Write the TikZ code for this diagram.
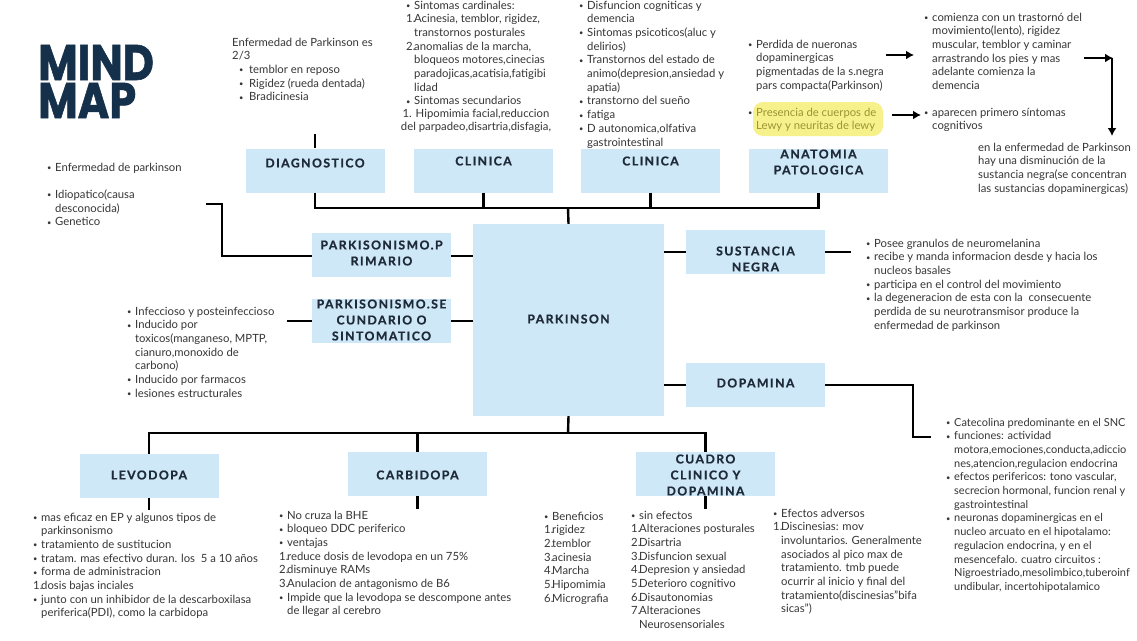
\documentclass[tikz,border=0pt]{standalone}
\usepackage{fontspec}
\setmainfont{Lato}
\newfontfamily\titlef{Poppins}[BoldFeatures={FakeBold=1.2}]
\newfontfamily\boxf{Lato}[LetterSpace=12, BoldFeatures={FakeBold=0.8}]
\usetikzlibrary{arrows.meta}
\definecolor{tc}{HTML}{363636}
\definecolor{boxblue}{HTML}{CFE8F8}
\definecolor{navy}{HTML}{1E2A38}
\definecolor{titlec}{HTML}{15304A}
\definecolor{hl}{HTML}{F7F18C}
\definecolor{hltext}{HTML}{9C9434}
\newcommand\bux[1]{\makebox[#1][l]{\raisebox{.6pt}{\fontsize{7.5}{7.5}\selectfont •}}}
\newcommand\bu{\bux{8pt}}
\newcommand\nm[1]{\makebox[8pt][l]{#1}}
\newcommand\ct{\hspace*{8pt}}
\newcommand\blk[1]{\begin{tabular}[t]{@{}l@{}}#1\end{tabular}}
\begin{document}
\begin{tikzpicture}[x=1pt,y=-1pt,
  txt/.style={anchor=base west, inner sep=0, text=tc, font=\fontsize{11.3}{13.7}\selectfont},
  bx/.style={fill=boxblue, minimum width=139pt, minimum height=44pt, inner sep=0},
  lbl/.style={font=\boxf\bfseries\fontsize{12.2}{16}\selectfont, text=navy, align=center, inner sep=0},
  ttl/.style={anchor=base west, inner sep=0, text=titlec, font=\titlef\bfseries\fontsize{50}{50}\selectfont},
  ln/.style={line width=2.4pt, draw=black},
  arr/.style={line width=2.4pt, -{Latex[length=8pt,width=9pt]}}]
\useasboundingbox (0,0) rectangle (1137,640);
\fill[white] (0,0) rectangle (1137,640);

% title
\node[ttl] (title1) at (38,80) {\scalebox{0.86}[1]{MIND}};
\node[ttl] (title2) at (38,118) {\scalebox{0.86}[1]{MAP}};

% boxes
\node[bx] (diag) at (315,170.5) {};
\node[lbl] (diagt) at (315,163) {DIAGNOSTICO};
\node[bx] (cl1) at (483.5,170.5) {};
\node[lbl] (cl1t) at (483.5,161) {CLINICA};
\node[bx] (cl2) at (650.5,170.5) {};
\node[lbl] (cl2t) at (650.5,161) {CLINICA};
\node[bx] (anat) at (818.5,170.5) {};
\node[lbl] (anatt) at (818.5,162) {ANATOMIA\\PATOLOGICA};
\node[bx, minimum width=191pt, minimum height=192pt] (park) at (568.5,320) {};
\node[lbl] (parkt) at (568.5,319) {PARKINSON};
\node[bx] (prim) at (381.5,255) {};
\node[lbl] (primt) at (381.5,253) {PARKISONISMO.P\\RIMARIO};
\node[bx] (sec) at (381.5,321) {};
\node[lbl] (sect) at (381.5,320) {PARKISONISMO.SE\\CUNDARIO O\\SINTOMATICO};
\node[bx] (sust) at (755.5,252) {};
\node[lbl] (sustt) at (755.5,259) {SUSTANCIA\\NEGRA};
\node[bx] (dop) at (755.5,385) {};
\node[lbl] (dopt) at (755.5,383) {DOPAMINA};
\node[bx] (levo) at (149,476) {};
\node[lbl] (levot) at (149,475) {LEVODOPA};
\node[bx] (carb) at (417.5,474) {};
\node[lbl] (carbt) at (417.5,475) {CARBIDOPA};
\node[bx] (cuad) at (705.5,474) {};
\node[lbl] (cuadt) at (705.5,475) {CUADRO\\CLINICO Y\\DOPAMINA};

% connectors top
\coordinate (topj) at (568,208);
\draw[ln] (diag.south) |- (topj) -| (anat.south);
\draw[ln] (cl1.south) -- (cl1.south |- topj);
\draw[ln] (cl2.south) -- (cl2.south |- topj);
\draw[ln] (topj) -- (park.north);
\coordinate (diagtop) at (315,134);
\draw[ln] (diagtop) -- (diag.north);
% left
\coordinate (pl1) at (222,256);
\coordinate (pl2) at (206,204);
\draw[ln] (prim.west |- pl1) -- (pl1) |- (pl2);
\draw[ln] (prim.east |- pl1) -- (park.west |- pl1);
\coordinate (sl) at (287,321);
\draw[ln] (sl) -- (sec.west);
\draw[ln] (sec.east) -- (park.west |- sec.east);
% right
\draw[ln] (park.east |- sust.west) -- (sust.west);
\coordinate (sr) at (851,252);
\draw[ln] (sust.east) -- (sr);
\draw[ln] (park.east |- dop.west) -- (dop.west);
\coordinate (dr1) at (913,385);
\coordinate (dr2) at (931,437);
\draw[ln] (dop.east) -- (dr1) |- (dr2);
% bottom
\coordinate (botj) at (568,433);
\draw[ln] (park.south) -- (botj);
\draw[ln] (levo.north) |- (botj) -| (cuad.north);
\draw[ln] (carb.north) -- (carb.north |- botj);
\coordinate (lb) at (149,510);
\coordinate (cb) at (417.5,509);
\coordinate (qb) at (705.5,509);
\draw[ln] (levo.south) -- (lb);
\draw[ln] (carb.south) -- (cb);
\draw[ln] (cuad.south) -- (qb);

% texts
\node[txt] (diagtx) at (232,46) {\blk{Enfermedad de Parkinson es\\2/3\\\hspace*{7pt}\bux{10pt}temblor en reposo\\\hspace*{7pt}\bux{10pt}Rigidez (rueda dentada)\\\hspace*{7pt}\bux{10pt}Bradicinesia}};

\node[txt] (cl1tx) at (406,9) {\blk{\bu Sintomas cardinales:\\\nm{1.}Acinesia, temblor, rigidez,\\\ct transtornos posturales\\\nm{2.}anomalias de la marcha,\\\ct bloqueos motores,cinecias\\\ct paradojicas,acatisia,fatigibi\\\ct lidad\\\bu Sintomas secundarios}};
\node[txt, anchor=base] (cl1tx2) at (476,117) {\begin{tabular}[t]{@{}c@{}}1. Hipomimia facial,reduccion\\del parpadeo,disartria,disfagia,\end{tabular}};

\node[txt] (cl2tx) at (579,9) {\blk{\bu Disfuncion cogniticas y\\\ct demencia\\\bu Sintomas psicoticos(aluc y\\\ct delirios)\\\bu Transtornos del estado de\\\ct animo(depresion,ansiedad y\\\ct apatia)\\\bu transtorno del sueño\\\bu fatiga\\\bu D autonomica,olfativa\\\ct gastrointestinal}};

\node[txt] (antx) at (748,48) {\blk{\bu Perdida de nueronas\\\ct dopaminergicas\\\ct pigmentadas de la s.negra\\\ct pars compacta(Parkinson)}};
\fill[hl, rounded corners=10pt] (753,102) rectangle (883,136);
\node[txt] (antx2) at (748,116) {\blk{\bu \textcolor{hltext}{Presencia de cuerpos de}\\\ct \textcolor{hltext}{Lewy y neuritas de lewy}}};

\node[txt] (rtx1) at (924,21) {\blk{\bu comienza con un trastornó del\\\ct movimiento(lento), rigidez\\\ct muscular, temblor y caminar\\\ct arrastrando los pies y mas\\\ct adelante comienza la\\\ct demencia}};
\node[txt] (rtx2) at (924,116) {\blk{\bu aparecen primero síntomas\\\ct cognitivos}};
\node[txt] (rtx3) at (978,151) {\blk{en la enfermedad de Parkinson\\hay una disminución de la\\sustancia negra(se concentran\\las sustancias dopaminergicas)}};

\coordinate (a1s) at (886,55); \coordinate (a1e) at (914,55);
\coordinate (a2s) at (892,115); \coordinate (a2e) at (921,115);
\coordinate (a3s) at (1084,58); \coordinate (a3e) at (1113,58);
\coordinate (a4s) at (1112,58); \coordinate (a4e) at (1112,136);
\draw[arr] (a1s) -- (a1e);
\draw[arr] (a2s) -- (a2e);
\draw[arr] (a3s) -- (a3e);
\draw[arr] (a4s) -- (a4e);

\node[txt] (lt1) at (47,171) {\blk{\bu Enfermedad de parkinson\\\\\bu Idiopatico(causa\\\ct desconocida)\\\bu Genetico}};
\node[txt] (lt2) at (127,315) {\blk{\bu Infeccioso y posteinfeccioso\\\bu Inducido por\\\ct toxicos(manganeso, MPTP,\\\ct cianuro,monoxido de\\\ct carbono)\\\bu Inducido por farmacos\\\bu lesiones estructurales}};

\node[txt] (sutx) at (866,247) {\blk{\bu Posee granulos de neuromelanina\\\bu recibe y manda informacion desde y hacia los\\\ct nucleos basales\\\bu participa en el control del movimiento\\\bu la degeneracion de esta con la\ \ consecuente\\\ct perdida de su neurotransmisor produce la\\\ct enfermedad de parkinson}};

\node[txt, font=\fontsize{11}{13.7}\selectfont] (dotx) at (946,426) {\blk{\bu Catecolina predominante en el SNC\\\bu funciones: actividad\\\ct motora,emociones,conducta,adiccio\\\ct nes,atencion,regulacion endocrina\\\bu efectos perifericos: tono vascular,\\\ct secrecion hormonal, funcion renal y\\\ct gastrointestinal\\\bu neuronas dopaminergicas en el\\\ct nucleo arcuato en el hipotalamo:\\\ct regulacion endocrina, y en el\\\ct mesencefalo. cuatro circuitos :\\\ct Nigroestriado,mesolimbico,tuberoinf\\\ct undibular, incertohipotalamico}};

\node[txt] (letx) at (33,521) {\blk{\bu mas eficaz en EP y algunos tipos de\\\ct parkinsonismo\\\bu tratamiento de sustitucion\\\bu tratam. mas efectivo duran. los\ \ 5 a 10 años\\\bu forma de administracion\\\nm{1.}dosis bajas inciales\\\bu junto con un inhibidor de la descarboxilasa\\\ct periferica(PDI), como la carbidopa}};

\node[txt] (catx) at (279,519) {\blk{\bu No cruza la BHE\\\bu bloqueo DDC periferico\\\bu ventajas\\\nm{1.}reduce dosis de levodopa en un 75\%\\\nm{2.}disminuye RAMs\\\nm{3.}Anulacion de antagonismo de B6\\\bu Impide que la levodopa se descompone antes\\\ct de llegar al cerebro}};

\node[txt] (cutx1) at (544,520) {\blk{\bu Beneficios\\\nm{1.}rigidez\\\nm{2.}temblor\\\nm{3.}acinesia\\\nm{4.}Marcha\\\nm{5.}Hipomimia\\\nm{6.}Micrografia}};
\node[txt] (cutx2) at (631,519) {\blk{\bu sin efectos\\\nm{1.}Alteraciones posturales\\\nm{2.}Disartria\\\nm{3.}Disfuncion sexual\\\nm{4.}Depresion y ansiedad\\\nm{5.}Deterioro cognitivo\\\nm{6.}Disautonomias\\\nm{7.}Alteraciones\\\ct Neurosensoriales}};
\node[txt] (cutx3) at (773,517) {\blk{\bu Efectos adversos\\\nm{1.}Discinesias: mov\\\ct involuntarios. Generalmente\\\ct asociados al pico max de\\\ct tratamiento. tmb puede\\\ct ocurrir al inicio y final del\\\ct tratamiento(discinesias"bifa\\\ct sicas")}};
\end{tikzpicture}
\end{document}
